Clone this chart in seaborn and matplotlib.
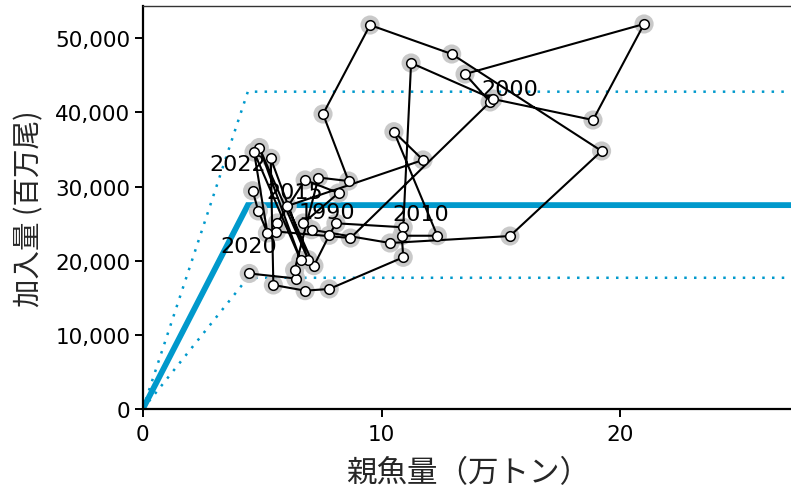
import numpy as np
import pandas as pd
import matplotlib
matplotlib.use("Agg")
import matplotlib.pyplot as plt
import seaborn as sns
from matplotlib.ticker import FuncFormatter, FixedLocator

# ---- data ----
years = list(range(1978, 2023))
ssb = [4.46, 6.41, 6.36, 7.36, 8.62, 7.55, 9.52, 12.94, 19.22, 15.38,
       10.36, 7.07, 6.73, 8.20, 6.80, 5.63, 5.60, 8.70, 14.55, 13.50,
       21.00, 18.86, 14.67, 11.24, 10.91, 8.09, 7.81, 7.17, 6.05, 11.74,
       10.52, 12.34, 10.85, 10.91, 7.81, 6.80, 5.47, 5.36, 6.93, 4.88,
       6.62, 4.66, 5.22, 4.84, 4.60]
rec = [18280, 17600, 18750, 31220, 30750, 39790, 51790, 47880, 34800, 23330,
       22390, 24180, 25090, 29130, 30890, 25090, 23940, 23060, 41410, 45180,
       51930, 38980, 41810, 46670, 24510, 25050, 23430, 19330, 27380, 33590,
       37400, 23370, 23370, 20460, 16190, 15960, 16730, 33810, 20140, 35270,
       20030, 34660, 23740, 26710, 29440]

# hockey-stick model and its band
hs_x = [0, 4.4, 27.5]
hs_mid = [0, 27500, 27500]
hs_hi = [0, 42800, 42800]
hs_lo = [0, 17700, 17700]

label_years = [1990, 2000, 2010, 2015, 2020, 2022]
label_offsets = [(16.6, 8.0), (12.2, 7.2), (13.9, 15.5), (17.1, -24.3), (-13.3, -9.1), (-10.4, 19.2)]

df = pd.DataFrame({"year": years, "ssb": ssb, "rec": rec})
hs = pd.DataFrame({"x": hs_x, "mid": hs_mid, "hi": hs_hi, "lo": hs_lo})

sns.set_style("ticks")
plt.rcParams["font.family"] = ["DejaVu Sans", "Noto Sans CJK JP"]

fig = plt.figure(figsize=(7.91, 4.89), dpi=100)
ax = fig.add_axes([142.8 / 791, 79 / 489, (793 - 142.8) / 791, 403 / 489])

blue = "#0099CC"
sns.lineplot(data=hs, x="x", y="mid", ax=ax, color=blue, lw=4.2, sort=False,
             estimator=None, zorder=2, solid_joinstyle="miter")
sns.lineplot(data=hs, x="x", y="hi", ax=ax, color=blue, lw=1.8, sort=False,
             estimator=None, linestyle=(0, (1, 2.9)), zorder=2)
sns.lineplot(data=hs, x="x", y="lo", ax=ax, color=blue, lw=1.8, sort=False,
             estimator=None, linestyle=(0, (1, 2.9)), zorder=2)

# grey halos
sns.scatterplot(data=df, x="ssb", y="rec", ax=ax, s=190, color="#c4c4c4",
                edgecolor="none", alpha=0.9, zorder=3, legend=False)

# year labels (above halos, beneath path and points)
for yr, (dx, dy) in zip(label_years, label_offsets):
    r = df[df.year == yr].iloc[0]
    ax.annotate(str(yr), xy=(r.ssb, r.rec), xytext=(dx, dy), textcoords="offset points",
                ha="center", va="center", fontsize=16, color="black", zorder=4)

# path
sns.lineplot(data=df, x="ssb", y="rec", ax=ax, sort=False, estimator=None,
             color="black", lw=1.5, zorder=5)
# points
sns.scatterplot(data=df, x="ssb", y="rec", ax=ax, s=48, color="white",
                edgecolor="black", linewidth=1.1, zorder=6, legend=False)

ax.set_xlim(0, (793 - 142.8) / 23.87)
ax.set_ylim(0, 403 / 7.414 * 1000)
ax.xaxis.set_major_locator(FixedLocator([0, 10, 20]))
ax.yaxis.set_major_locator(FixedLocator([0, 10000, 20000, 30000, 40000, 50000]))
ax.yaxis.set_major_formatter(FuncFormatter(lambda v, p: f"{int(v):,}"))
ax.tick_params(axis="both", labelsize=15.5, length=5.5, width=1.4, color="black",
               labelcolor="black")
ax.tick_params(axis="x", pad=5.5)
ax.tick_params(axis="y", pad=3.5)

for side in ["left", "bottom"]:
    ax.spines[side].set_linewidth(1.6)
    ax.spines[side].set_color("black")
ax.spines["top"].set_linewidth(1.0)
ax.spines["top"].set_color("#333333")
ax.spines["right"].set_visible(False)

ax.set_xlabel("親魚量（万トン）", fontsize=22, family=["Noto Sans CJK JP", "DejaVu Sans"], labelpad=9)
ax.set_ylabel("加入量 (百万尾)", fontsize=20.5, family=["Noto Sans CJK JP", "DejaVu Sans"], labelpad=8)

fig.savefig("out.png", dpi=100)
